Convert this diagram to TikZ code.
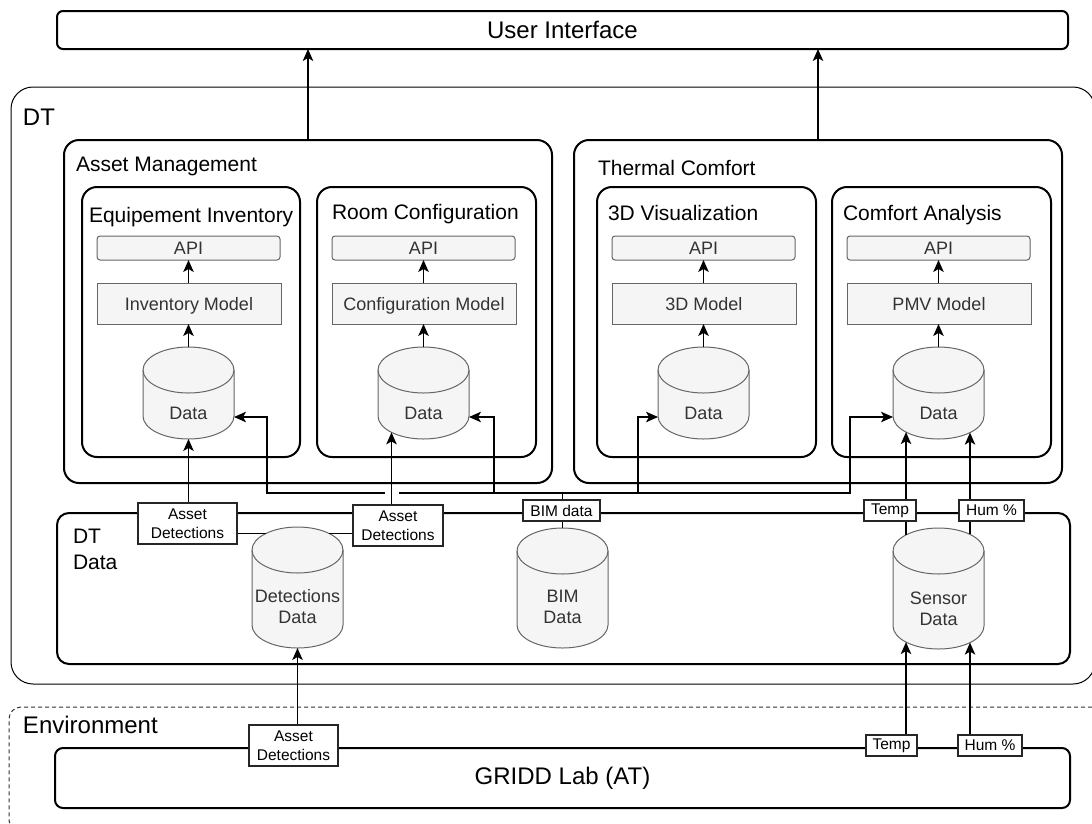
\documentclass[tikz,border=0pt]{standalone}
\usepackage{fontspec}
\setmainfont{Liberation Sans}
\usetikzlibrary{arrows.meta,calc}
\definecolor{boxfill}{HTML}{F5F5F5}
\definecolor{boxline}{HTML}{666666}
\definecolor{txtgray}{HTML}{333333}
\newcommand\drawcyl[1]{%
  \path[draw=boxline,fill=boxfill,line width=1pt]
    ($(#1.north west)+(0,23)$) arc[start angle=180,end angle=0,x radius=45.5pt,y radius=23pt]
    -- ($(#1.south east)+(0,-23)$) arc[start angle=0,end angle=-180,x radius=45.5pt,y radius=23pt]
    -- cycle;
  \draw[boxline,line width=1pt]
    ($(#1.north west)+(0,23)$) arc[start angle=180,end angle=360,x radius=45.5pt,y radius=23pt];
}
\begin{document}
\begin{tikzpicture}[x=1pt,y=-1pt,
  every node/.style={inner sep=0pt,outer sep=0pt},
  cont/.style={draw=black,line width=2pt,rounded corners=#1,anchor=north west},
  cont/.default=15pt,
  ttl/.style={anchor=base west,font=\fontsize{21}{24}\selectfont},
  bigt/.style={font=\fontsize{24}{28}\selectfont},
  apibox/.style={draw=boxline,fill=boxfill,line width=1pt,rounded corners=3pt,minimum width=183pt,minimum height=24pt,anchor=north west,text=txtgray,font=\fontsize{18}{21}\selectfont,text height=13pt,text depth=0pt},
  modbox/.style={draw=boxline,fill=boxfill,line width=1pt,minimum width=184pt,minimum height=41pt,anchor=north west,text=txtgray,font=\fontsize{18}{21}\selectfont,text height=13pt,text depth=0pt},
  cylbox/.style={minimum width=91pt,minimum height=#1},
  cylbox/.default=92pt,
  cyltxt/.style={text=txtgray,font=\fontsize{18}{21}\selectfont,align=center},
  elab/.style={draw=black!85,line width=1.1pt,fill=white,font=\fontsize{15.5}{19}\selectfont,align=center},
  arr/.style={draw=black,line width=1.3pt,-{Stealth[length=12pt,width=10.5pt,inset=3pt]}}
]
\useasboundingbox (0,0) rectangle (1092,823);
\clip (0,0) rectangle (1092,823);

% outer frames
\node[draw=black,line width=1pt,rounded corners=22pt,anchor=north west,minimum width=1084pt,minimum height=597pt] (dt) at (11,87) {};
\node[draw=black!80,dash pattern=on 4pt off 3pt,line width=1pt,rounded corners=12pt,anchor=north west,minimum width=1095pt,minimum height=125pt] (env) at (9,707) {};
\node[bigt,anchor=base west] (dtl) at (23,125) {DT};
\node[bigt,anchor=base west] (envl) at (23,733) {Environment};

\node[cont=6pt,minimum width=1011pt,minimum height=38pt,bigt] (ui) at (57,11) {User Interface};
\node[cont=8pt,minimum width=1015pt,minimum height=60pt,bigt] (gl) at (55,748) {GRIDD Lab (AT)};

% containers
\node[cont,minimum width=488pt,minimum height=343pt] (am) at (64,140) {};
\node[cont,minimum width=488pt,minimum height=343pt] (tc) at (574,140) {};
\node[cont,minimum width=218pt,minimum height=270pt] (ei) at (82,187) {};
\node[cont,minimum width=219pt,minimum height=270pt] (rc) at (317,187) {};
\node[cont,minimum width=219pt,minimum height=270pt] (vz) at (597,187) {};
\node[cont,minimum width=219pt,minimum height=270pt] (ca) at (832,187) {};
\node[cont=12pt,minimum width=1013pt,minimum height=151pt] (dtd) at (57,513) {};

\node[ttl] (amt) at (76,171) {Asset Management};
\node[ttl] (tct) at (598,175.5) {Thermal Comfort};
\node[ttl] (eit) at (89,222.5) {Equipement Inventory};
\node[ttl] (rct) at (332,219.5) {Room Configuration};
\node[ttl] (vzt) at (608,220.5) {3D Visualization};
\node[ttl] (cat) at (843,220.5) {Comfort Analysis};
\node[anchor=west,align=left,font=\fontsize{21}{26}\selectfont] (dtdl) at (73,549.5) {DT\\Data};

% inner services
\node[apibox] (a1) at (97,236) {API};
\node[modbox] (m1) at (97,283) {Inventory Model};
\node[cylbox] (d1) at (188.5,393) {};

\node[apibox] (a2) at (332,236) {API};
\node[modbox] (m2) at (332,283) {Configuration Model};
\node[cylbox] (d2) at (423.5,393) {};

\node[apibox] (a3) at (612,236) {API};
\node[modbox] (m3) at (612,283) {3D Model};
\node[cylbox] (d3) at (703.5,393) {};

\node[apibox] (a4) at (847,236) {API};
\node[modbox] (m4) at (847,283) {PMV Model};
\node[cylbox] (d4) at (938.5,393) {};

% DT data stores
\node[cylbox=121pt] (dd) at (297.5,587.5) {};
\node[cylbox=120pt] (bim) at (562.5,588) {};
\node[cylbox=121pt] (sd) at (938.5,588.5) {};

\foreach \c in {d1,d2,d3,d4,dd,bim,sd}{\drawcyl{\c}}

\node[cyltxt] (d1t) at ([yshift=-20pt]d1.center) {Data};
\node[cyltxt] (d2t) at ([yshift=-20pt]d2.center) {Data};
\node[cyltxt] (d3t) at ([yshift=-20pt]d3.center) {Data};
\node[cyltxt] (d4t) at ([yshift=-20pt]d4.center) {Data};
\node[cyltxt] (ddt) at ([yshift=-19pt]dd.center) {Detections\\Data};
\node[cyltxt] (bimt) at ([yshift=-19pt]bim.center) {BIM\\Data};
\node[cyltxt] (sdt) at ([yshift=-20pt]sd.center) {Sensor\\Data};

% connectors inside services
\foreach \i in {1,2,3,4}{
  \draw[arr] (a\i.south |- m\i.north) -- (a\i.south);
  \draw[arr] (d\i.north) -- (d\i.north |- m\i.south);
}
% to user interface
\draw[arr] (am.north) -- (am.north |- ui.south);
\draw[arr] (tc.north) -- (tc.north |- ui.south);

% BIM data bus
\draw[arr] (bim.north) |- (267,493) |- ([yshift=-24pt]d1.east);
\draw[arr] (bim.north) |- (494,493) |- ([yshift=-24pt]d2.east);
\draw[arr] (bim.north) |- (638,493) |- ([yshift=-24pt]d3.west);
\draw[arr] (bim.north) |- (850,493) |- ([yshift=-24pt]d4.west);

% line jump
\coordinate (busy) at (0,493);
\coordinate (d2in) at ([xshift=-32pt,yshift=6.6pt]d2.south);
\coordinate (jmp) at (d2in |- busy);
\draw[white,line width=3pt] ([xshift=-7pt]jmp) -- ([xshift=7pt]jmp);

% detections
\draw[arr] ([xshift=-31.5pt,yshift=-6.4pt]dd.north) -| (d1.south);
\draw[arr] ([xshift=31.5pt,yshift=-6.4pt]dd.north) -| (d2in);
\draw[arr] (dd.south |- gl.north) -- (dd.south);

% sensors
\coordinate (st) at ([xshift=-32.5pt,yshift=-6.9pt]sd.north);
\coordinate (sh) at ([xshift=31.5pt,yshift=-6.4pt]sd.north);
\coordinate (sbt) at ([xshift=-32.5pt,yshift=6.9pt]sd.south);
\coordinate (sbh) at ([xshift=31.5pt,yshift=6.4pt]sd.south);
\coordinate (cbt) at ([xshift=-32.5pt,yshift=6.9pt]d4.south);
\coordinate (cbh) at ([xshift=31.5pt,yshift=6.4pt]d4.south);
\draw[arr] (st) -- (cbt);
\draw[arr] (sh) -- (cbh);
\draw[arr] (sbt |- gl.north) -- (sbt);
\draw[arr] (sbh |- gl.north) -- (sbh);

% edge labels
\node[elab,minimum width=99pt,minimum height=41pt] (ad1) at (187.5,523.5) {Asset\\Detections};
\node[elab,minimum width=90pt,minimum height=41pt] (ad2) at (398,525.5) {Asset\\Detections};
\node[elab,minimum width=89pt,minimum height=41pt] (ad3) at (293.5,745.5) {Asset\\Detections};
\node[elab,minimum width=77pt,minimum height=21pt] (bl) at (561.5,510.5) {BIM data};
\node[elab,minimum width=52pt,minimum height=21pt] (tp1) at (890,510.5) {Temp};
\node[elab,minimum width=65pt,minimum height=21pt] (hu1) at (991.5,510.5) {Hum \%};
\node[elab,minimum width=51pt,minimum height=21pt] (tp2) at (891.5,745.5) {Temp};
\node[elab,minimum width=64pt,minimum height=21pt] (hu2) at (990,745.5) {Hum \%};
\end{tikzpicture}
\end{document}
